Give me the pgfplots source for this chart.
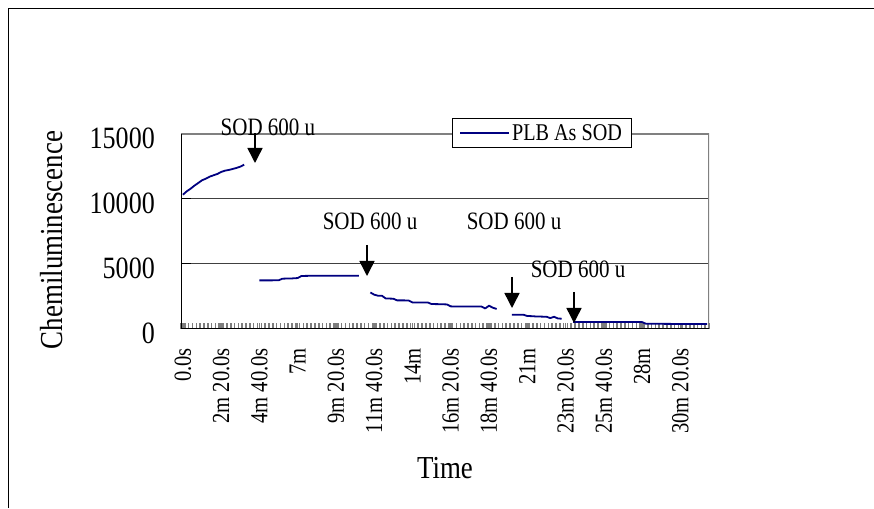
\documentclass[border=0pt]{standalone}
\usepackage{pgfplots}
\pgfplotsset{compat=1.18}
\usepackage{pgfplotstable}
\usepackage{fontspec}
\setmainfont{Liberation Serif}[FakeStretch=0.84]
\usetikzlibrary{arrows.meta}
\definecolor{navy}{RGB}{0,0,128}
\definecolor{gridc}{RGB}{64,64,64}
\definecolor{bord}{RGB}{128,128,128}
\definecolor{tk}{RGB}{125,125,125}

\pgfplotstableread{
idx val
0 10330
1 10590
2 10790
3 11025
4 11230
5 11440
6 11565
7 11720
8 11825
9 11925
10 12080
11 12180
12 12235
13 12310
14 12390
15 12490
16 12640
17 nan
20 3740
21 3740
22 3740
23 3740
24 3745
25 3745
26 3870
27 3880
28 3880
29 3900
30 3920
31 4080
32 4085
33 4090
34 4090
35 4090
36 4090
37 4095
38 4095
39 4095
40 4095
41 4100
42 4100
43 4100
44 4100
45 4100
46 4100
47 nan
49 2810
50 2640
51 2560
52 2560
53 2350
54 2340
55 2330
56 2200
57 2200
58 2200
59 2195
60 2045
61 2045
62 2040
63 2040
64 2040
65 1920
66 1915
67 1910
68 1900
69 1890
70 1740
71 1735
72 1735
73 1735
74 1735
75 1735
76 1735
77 1735
78 1735
79 1580
80 1790
81 1640
82 1540
83 nan
86 1100
87 1100
88 1100
89 1095
90 1000
91 990
92 970
93 960
94 950
95 945
96 840
97 940
98 810
99 790
100 nan
102 535
103 535
104 535
105 535
106 535
107 535
108 535
109 535
110 535
111 535
112 535
113 535
114 535
115 535
116 535
117 535
118 535
119 535
120 535
121 405
122 400
123 400
124 400
125 400
126 395
127 395
128 390
129 390
130 390
131 390
132 385
133 385
134 385
135 380
136 380
137 380
}\datatable

\begin{document}
\begin{tikzpicture}[x=1pt,y=1pt]
\useasboundingbox (0,0) rectangle (874,508);
\draw[line width=1pt] (8,0) -- (8,499) -- (874,499);
\begin{axis}[
  at={(181pt,179pt)}, anchor=south west,
  scale only axis, width=528pt, height=195pt,
  xmin=-0.5, xmax=137.5, ymin=0, ymax=15000,
  scaled y ticks=false,
  axis line style={draw=none},
  xtick pos=left, ytick pos=left,
  ytick={0,5000,10000,15000}, yticklabels={0,5000,10000,15000},
  xtick={-0.5,0.5,...,137.5}, xticklabels={},
  extra x ticks={0,10,...,130},
  extra x tick labels={0.0s,2m 20.0s,4m 40.0s,7m,9m 20.0s,11m 40.0s,14m,16m 20.0s,18m 40.0s,21m,23m 20.0s,25m 40.0s,28m,30m 20.0s},
  extra x tick style={tick style={draw=none}},
  ymajorgrids, grid style={draw=gridc, line width=1pt},
  tick align=inside,
  major tick length=6pt,
  xtick style={draw=tk, line width=1.6pt},
  ytick style={draw=black, line width=1pt, /pgfplots/major tick length=10pt},
  yticklabel style={font=\fontsize{31}{31}\selectfont, anchor=east, inner sep=0pt, yshift=-4pt},
  yticklabel shift=26pt,
  xticklabel style={font=\fontsize{24.5}{24.5}\selectfont, rotate=90, anchor=east, inner sep=0pt},
  xticklabel shift=19pt,
  xlabel={Time},
  xlabel style={font=\fontsize{32}{32}\selectfont, at={(axis description cs:0.5,-0.713)}, anchor=center},
  ylabel={Chemiluminescence},
  ylabel style={font=\fontsize{32}{32}\selectfont, at={(axis description cs:-0.246,0.456)}, anchor=center},
  legend style={at={(axis description cs:0.683,1.005)}, anchor=center, draw=black, fill=white, line width=0.8pt, font=\fontsize{24}{24}\selectfont, inner xsep=7pt, inner ysep=4pt},
  legend image code/.code={\draw[#1] (0pt,0pt) -- (49pt,0pt);},
  legend cell align=left,
]
\addplot[navy, line width=1.8pt, line join=round, unbounded coords=jump] table[x=idx, y=val]{\datatable};
\addlegendentry{PLB As SOD}
\draw[bord, line width=1.5pt] (rel axis cs:0,1) -- (rel axis cs:1,1) -- (rel axis cs:1,0);
\draw[black, line width=2pt] (rel axis cs:0,1) -- (rel axis cs:0,0) -- (rel axis cs:1,0);
\end{axis}
\begin{scope}[font=\fontsize{25}{25}\selectfont]
\node at (268,381) {SOD 600 u};
\node at (370,287) {SOD 600 u};
\node at (514,287) {SOD 600 u};
\node at (578,239) {SOD 600 u};
\end{scope}
\begin{scope}[line width=1.5pt, -{Triangle[length=15pt,width=15pt]}]
\draw (255,375) -- (255,345);
\draw (367,263) -- (367,232);
\draw (512,231) -- (512,200);
\draw (574,216) -- (574,185);
\end{scope}
\end{tikzpicture}
\end{document}
